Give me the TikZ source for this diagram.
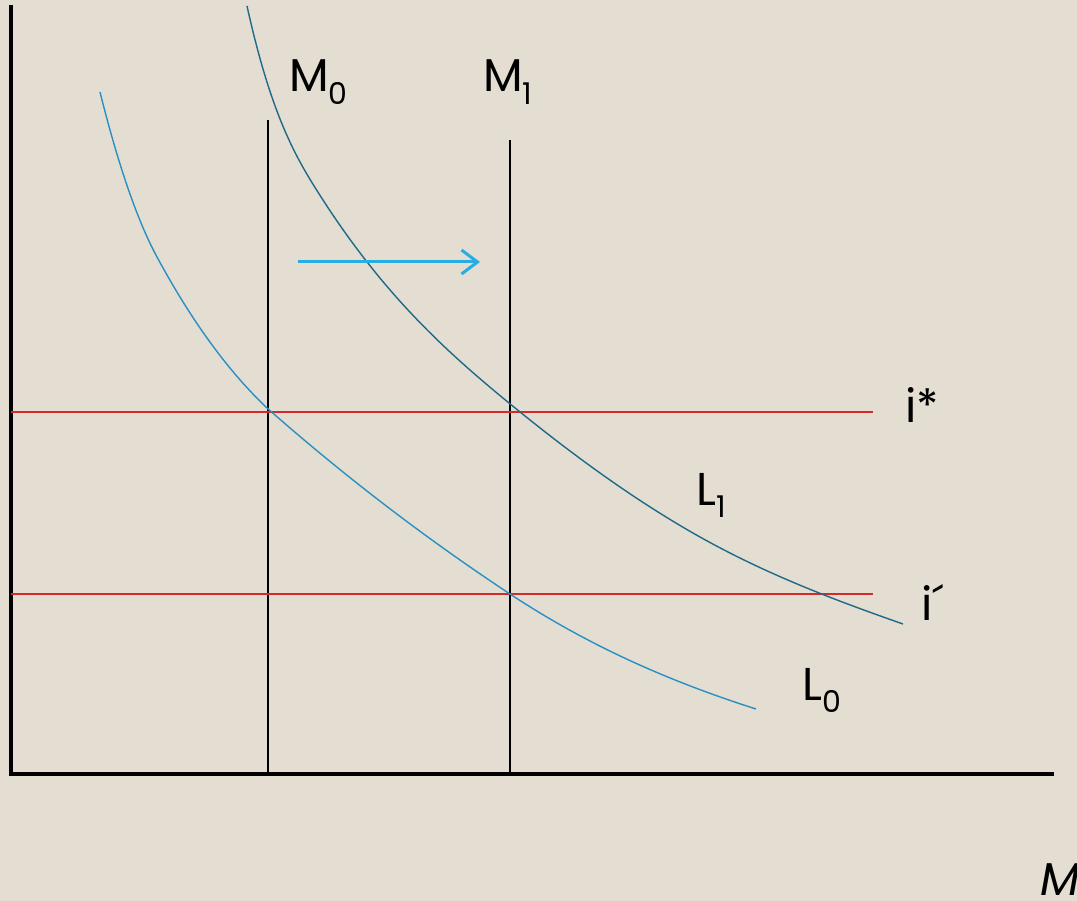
\documentclass[tikz,border=0pt]{standalone}
\usepackage{fontspec}
\setmainfont{Poppins}
\usetikzlibrary{arrows.meta}
\definecolor{bg}{HTML}{E3DDD2}
\definecolor{lzero}{HTML}{2A90C4}
\definecolor{lone}{HTML}{1E6A88}
\definecolor{shiftblue}{HTML}{27ADE3}
\definecolor{rateRed}{HTML}{D42A2A}
\newcommand{\subs}[1]{\raisebox{-0.28em}{\fontsize{30}{30}\selectfont #1}}
\tikzset{
  lbl/.style={font=\fontsize{46}{50}\selectfont, inner sep=0pt, anchor=base west},
  axis/.style={line width=4.2pt, black},
  supply/.style={line width=1.2pt, black},
  rate/.style={line width=1.3pt, rateRed},
  demand/.style={line width=1.4pt},
}
\begin{document}
\begin{tikzpicture}[x=1pt,y=-1pt]
\fill[bg] (0,0) rectangle (1077,901);
\useasboundingbox (0,0) rectangle (1077,901);
% axes
\coordinate (top) at (11,5);
\coordinate (origin) at (11,774);
\coordinate (right) at (1054,774);
\draw[axis, line cap=butt] (top) -- (origin) -- (right);
% money supply lines
\coordinate (m0top) at (268,120);
\coordinate (m0bot) at (268,774);
\coordinate (m1top) at (510,140);
\coordinate (m1bot) at (510,774);
\draw[supply] (m0top) -- (m0bot);
\draw[supply] (m1top) -- (m1bot);
% interest rate lines
\coordinate (istarL) at (11,412);
\coordinate (istarR) at (873,412);
\coordinate (iprL) at (11,594);
\coordinate (iprR) at (873,594);
\draw[rate] (istarL) -- (istarR);
\draw[rate] (iprL) -- (iprR);
% demand curve L0
\coordinate (l0a) at (100,92);
\coordinate (l0b) at (157,257);
\coordinate (l0c) at (267,408);
\coordinate (l0d) at (510,594);
\coordinate (l0e) at (756,709);
\draw[demand, lzero] (l0a) .. controls (119,168) and (138,221.8) .. (l0b)
  .. controls (193.7,324.8) and (230.3,373.2) .. (l0c)
  .. controls (348,479.3) and (429,540.5) .. (l0d)
  .. controls (592,648.1) and (674,682.8) .. (l0e);
% demand curve L1
\coordinate (l1a) at (247,6);
\coordinate (l1b) at (323,200);
\coordinate (l1c) at (509,403);
\coordinate (l1d) at (700,537);
\coordinate (l1e) at (903,624);
\draw[demand, lone] (l1a) .. controls (272.3,120) and (297.7,160.7) .. (l1b)
  .. controls (385,296.1) and (447,352.2) .. (l1c)
  .. controls (572.7,455.2) and (636.3,501.3) .. (l1d)
  .. controls (767.7,574.9) and (835.3,600.3) .. (l1e);
% shift arrow
\coordinate (arrS) at (298,262);
\coordinate (arrE) at (480,262);
\draw[shiftblue, line width=3pt, -{Straight Barb[length=16pt, width=24pt, line width=3pt]}] (arrS) -- (arrE);
% labels
\node[lbl] (M0) at (289,92) {M\subs{0}};
\node[lbl] (M1) at (483,92) {M\subs{1}};
\node[lbl] (istar) at (905,423) {i*};
\node[lbl] (iprime) at (921,620) {i´};
\node[lbl] (L1) at (696,505) {L\subs{1}};
\node[lbl] (L0) at (802,700) {L\subs{0}};
\node[lbl, font=\fontsize{46}{50}\selectfont\itshape] (Mlab) at (1040,895) {M};
\end{tikzpicture}
\end{document}
